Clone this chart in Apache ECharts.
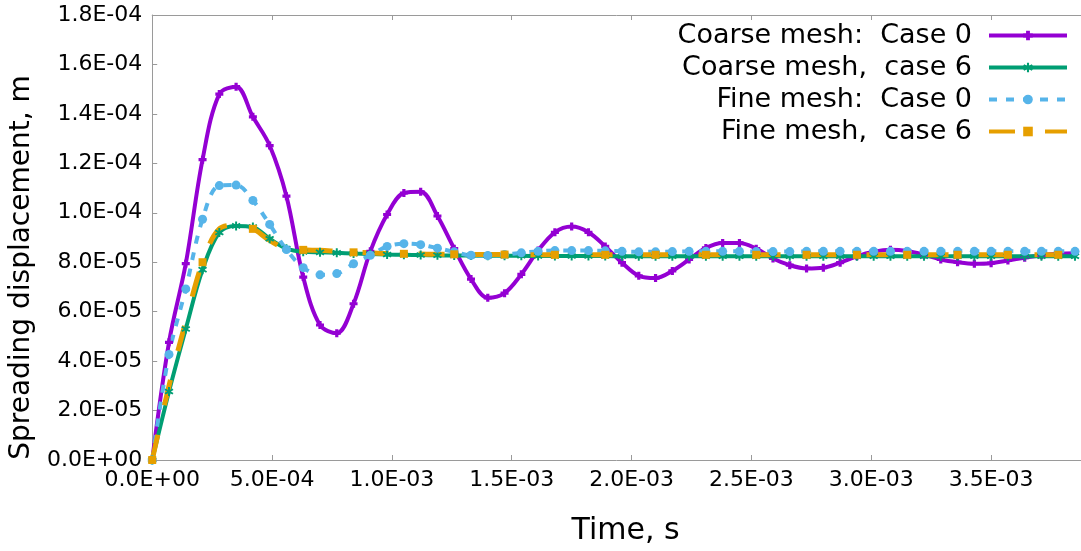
<!DOCTYPE html>
<html>
<head>
<meta charset="utf-8">
<title>Spreading displacement</title>
<script src="https://cdn.jsdelivr.net/npm/echarts@6/dist/echarts.min.js"></script>
<style>
  html, body { margin: 0; padding: 0; background: #fff; }
  #chart { width: 1081px; height: 551px; }
</style>
</head>
<body>
<div id="chart"></div>
<script>
// Sample times, s
const times = [
  0, 7e-5, 1.4e-4, 2.1e-4, 2.8e-4, 3.5e-4, 4.2e-4, 4.9e-4, 5.6e-4, 6.3e-4,
  7.0e-4, 7.7e-4, 8.4e-4, 9.1e-4, 9.8e-4, 1.05e-3, 1.12e-3, 1.19e-3, 1.26e-3, 1.33e-3,
  1.40e-3, 1.47e-3, 1.54e-3, 1.61e-3, 1.68e-3, 1.75e-3, 1.82e-3, 1.89e-3, 1.96e-3, 2.03e-3,
  2.10e-3, 2.17e-3, 2.24e-3, 2.31e-3, 2.38e-3, 2.45e-3, 2.52e-3, 2.59e-3, 2.66e-3, 2.73e-3,
  2.80e-3, 2.87e-3, 2.94e-3, 3.01e-3, 3.08e-3, 3.15e-3, 3.22e-3, 3.29e-3, 3.36e-3, 3.43e-3,
  3.50e-3, 3.57e-3, 3.64e-3, 3.71e-3, 3.78e-3, 3.85e-3
];

// Spreading displacement, m
const coarseCase0 = [
  0, 4.76e-5, 7.94e-5, 1.215e-4, 1.48e-4, 1.51e-4, 1.388e-4, 1.272e-4, 1.067e-4, 7.4e-5,
  5.46e-5, 5.13e-5, 6.32e-5, 8.44e-5, 9.93e-5, 1.08e-4, 1.085e-4, 9.87e-5, 8.55e-5, 7.32e-5,
  6.56e-5, 6.75e-5, 7.51e-5, 8.47e-5, 9.21e-5, 9.44e-5, 9.21e-5, 8.64e-5, 7.98e-5, 7.45e-5,
  7.36e-5, 7.65e-5, 8.11e-5, 8.58e-5, 8.78e-5, 8.78e-5, 8.55e-5, 8.15e-5, 7.88e-5, 7.75e-5,
  7.78e-5, 7.98e-5, 8.24e-5, 8.42e-5, 8.5e-5, 8.45e-5, 8.3e-5, 8.11e-5, 8.0e-5, 7.94e-5,
  7.96e-5, 8.07e-5, 8.18e-5, 8.28e-5, 8.34e-5, 8.36e-5
];
const coarseCase6 = [
  0, 2.77e-5, 5.3e-5, 7.7e-5, 9.2e-5, 9.47e-5, 9.42e-5, 8.95e-5, 8.55e-5, 8.42e-5,
  8.4e-5, 8.38e-5, 8.35e-5, 8.33e-5, 8.31e-5, 8.3e-5, 8.29e-5, 8.28e-5, 8.27e-5, 8.27e-5,
  8.26e-5, 8.26e-5, 8.26e-5, 8.25e-5, 8.25e-5, 8.25e-5, 8.25e-5, 8.25e-5, 8.24e-5, 8.24e-5,
  8.24e-5, 8.24e-5, 8.24e-5, 8.24e-5, 8.24e-5, 8.24e-5, 8.24e-5, 8.24e-5, 8.24e-5, 8.24e-5,
  8.24e-5, 8.24e-5, 8.24e-5, 8.24e-5, 8.24e-5, 8.24e-5, 8.24e-5, 8.24e-5, 8.24e-5, 8.24e-5,
  8.24e-5, 8.24e-5, 8.24e-5, 8.24e-5, 8.24e-5, 8.24e-5
];
const fineCase0 = [
  0, 4.27e-5, 6.92e-5, 9.74e-5, 1.11e-4, 1.112e-4, 1.05e-4, 9.53e-5, 8.51e-5, 7.78e-5,
  7.49e-5, 7.54e-5, 7.94e-5, 8.28e-5, 8.64e-5, 8.75e-5, 8.71e-5, 8.57e-5, 8.42e-5, 8.28e-5,
  8.27e-5, 8.31e-5, 8.38e-5, 8.44e-5, 8.47e-5, 8.47e-5, 8.47e-5, 8.46e-5, 8.44e-5, 8.42e-5,
  8.42e-5, 8.43e-5, 8.44e-5, 8.44e-5, 8.44e-5, 8.44e-5, 8.43e-5, 8.43e-5, 8.43e-5, 8.44e-5,
  8.44e-5, 8.44e-5, 8.44e-5, 8.44e-5, 8.44e-5, 8.44e-5, 8.44e-5, 8.44e-5, 8.44e-5, 8.44e-5,
  8.44e-5, 8.44e-5, 8.44e-5, 8.44e-5, 8.44e-5, 8.44e-5
];
const fineCase6 = [
  0, 3.0e-5, 5.6e-5, 8.0e-5, 9.35e-5, 9.5e-5, 9.35e-5, 8.88e-5, 8.55e-5, 8.5e-5,
  8.48e-5, 8.44e-5, 8.4e-5, 8.38e-5, 8.35e-5, 8.34e-5, 8.33e-5, 8.32e-5, 8.32e-5, 8.31e-5,
  8.31e-5, 8.31e-5, 8.3e-5, 8.3e-5, 8.3e-5, 8.3e-5, 8.3e-5, 8.3e-5, 8.3e-5, 8.3e-5,
  8.3e-5, 8.3e-5, 8.3e-5, 8.3e-5, 8.3e-5, 8.3e-5, 8.3e-5, 8.3e-5, 8.3e-5, 8.3e-5,
  8.3e-5, 8.3e-5, 8.3e-5, 8.3e-5, 8.3e-5, 8.3e-5, 8.3e-5, 8.3e-5, 8.3e-5, 8.3e-5,
  8.3e-5, 8.3e-5, 8.3e-5, 8.3e-5, 8.3e-5, 8.3e-5
];

const seriesNames = [
  'Coarse mesh:  Case 0',
  'Coarse mesh,  case 6',
  'Fine mesh:  Case 0',
  'Fine mesh,  case 6'
];

const FONT = 'DejaVu Sans';
const AXIS_GRAY = '#9a9a9a';

// Scientific tick labels like 5.0E-04
function sci(v) {
  return v.toExponential(1).toUpperCase().replace(/E([+-])(\d)$/, 'E$10$2');
}

function pairs(ys) {
  return times.map((t, i) => [t, ys[i]]);
}

const plusPath = 'path://M3,0h4v3h3v4h-3v3h-4v-3h-3v-4h3z';
const starPath = 'path://M4,0h2v3.2l2.6-1.6 1,1.7-2.7,1.7 2.7,1.7-1,1.7-2.6-1.6v3.2h-2v-3.2l-2.6,1.6-1-1.7 2.7-1.7-2.7-1.7 1-1.7 2.6,1.6z';

const chart = echarts.init(document.getElementById('chart'), null, { renderer: 'canvas' });

chart.setOption({
  animation: false,
  backgroundColor: '#fff',
  grid: { left: 152, right: 0, top: 15, bottom: 82, containLabel: false },
  legend: {
    orient: 'vertical',
    right: 7,
    top: 17,
    align: 'right',
    itemWidth: 78,
    itemHeight: 12,
    itemGap: 5,
    data: seriesNames,
    lineStyle: { width: 4 },
    formatter: n => '{t|' + n + '}',
    textStyle: {
      rich: {
        t: {
          fontFamily: FONT, fontSize: 27, color: '#000',
          width: 320, align: 'right', lineHeight: 32, padding: [0, 12, 0, 0]
        }
      }
    }
  },
  xAxis: [{
    type: 'value',
    min: 0, max: 3.875e-3, interval: 5e-4,
    name: 'Time, s',
    nameLocation: 'middle',
    nameGap: 56,
    nameTextStyle: { fontFamily: FONT, fontSize: 30, color: '#000', padding: [0, 0, 0, 18] },
    axisLine: { show: true, lineStyle: { color: AXIS_GRAY, width: 1 } },
    axisTick: { show: true, inside: true, length: 5, lineStyle: { color: AXIS_GRAY } },
    axisLabel: {
      formatter: sci, showMaxLabel: false, margin: 9,
      fontFamily: FONT, fontSize: 22, color: '#000'
    },
    splitLine: { show: false }
  }, {
    type: 'value',
    position: 'top',
    min: 0, max: 3.875e-3, interval: 5e-4,
    axisLine: { show: true, lineStyle: { color: AXIS_GRAY, width: 1 } },
    axisTick: { show: true, inside: true, length: 5, lineStyle: { color: AXIS_GRAY } },
    axisLabel: { show: false },
    splitLine: { show: false }
  }],
  yAxis: {
    type: 'value',
    min: 0, max: 1.8e-4, interval: 2e-5,
    name: 'Spreading displacement, m',
    nameLocation: 'middle',
    nameGap: 115,
    nameRotate: 90,
    nameTextStyle: { fontFamily: FONT, fontSize: 28, color: '#000', padding: [0, 60, 0, 0] },
    axisLine: { show: true, lineStyle: { color: AXIS_GRAY, width: 1 } },
    axisTick: { show: true, inside: true, length: 5, lineStyle: { color: AXIS_GRAY } },
    axisLabel: { formatter: sci, margin: 10, fontFamily: FONT, fontSize: 22, color: '#000' },
    splitLine: { show: false }
  },
  series: [{
    name: seriesNames[0],
    type: 'line',
    data: pairs(coarseCase0),
    smooth: 0.35,
    color: '#9400D3',
    lineStyle: { width: 4, color: '#9400D3' },
    symbol: plusPath, symbolSize: 8,
    itemStyle: { color: '#9400D3' }
  }, {
    name: seriesNames[1],
    type: 'line',
    data: pairs(coarseCase6),
    smooth: 0.35,
    color: '#009E73',
    lineStyle: { width: 4, color: '#009E73' },
    symbol: starPath, symbolSize: 9,
    itemStyle: { color: '#009E73' }
  }, {
    name: seriesNames[2],
    type: 'line',
    data: pairs(fineCase0),
    smooth: 0.35,
    color: '#56B4E9',
    lineStyle: { width: 4, color: '#56B4E9', type: [8, 9] },
    symbol: 'circle', symbolSize: 9,
    itemStyle: { color: '#56B4E9' }
  }, {
    name: seriesNames[3],
    type: 'line',
    data: pairs(fineCase6),
    smooth: 0.35,
    color: '#E69F00',
    lineStyle: { width: 5, color: '#E69F00', type: [26, 30] },
    symbol: 'rect',
    // square markers on every third sample keep the long dashes readable
    symbolSize: (v, p) => (p && p.dataIndex % 3 === 0 ? 8 : 0),
    itemStyle: { color: '#E69F00' }
  }]
});
</script>
</body>
</html>
